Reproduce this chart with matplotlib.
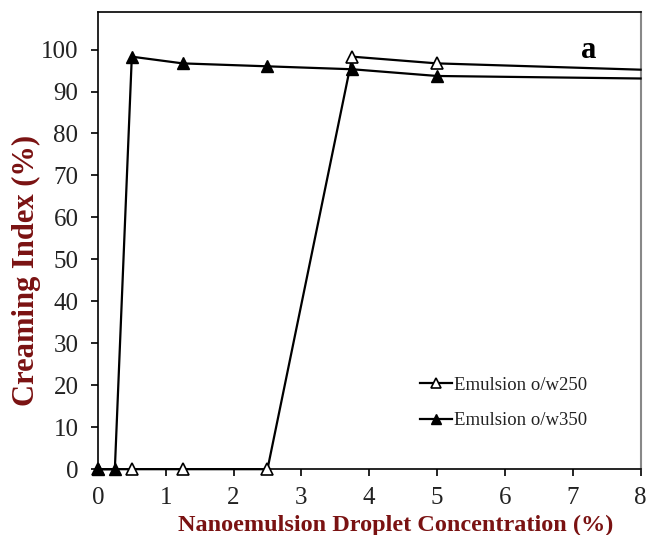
import matplotlib.pyplot as plt

# dados
conc_250 = [0, 0.5, 1.25, 2.5, 3.75, 5, 8]
ci_250 = [0, 0, 0, 0, 98.3, 96.7, 95.2]

conc_350 = [0, 0.25, 0.5, 1.25, 2.5, 3.75, 5, 8]
ci_350 = [0, 0, 98.3, 96.7, 96.0, 95.3, 93.7, 93.1]

yticks = list(range(0, 101, 10))
xticks = list(range(0, 9))

plt.rcParams['font.family'] = ['Liberation Serif', 'DejaVu Serif']
vermelho = '#7A1212'

fig, ax = plt.subplots(figsize=(6.57, 5.35), dpi=100)
fig.subplots_adjust(left=0.149, right=0.975, top=0.978, bottom=0.123)

ax.plot(conc_250, ci_250, color='black', lw=1.6, marker='^', markersize=8,
        markerfacecolor='white', markeredgecolor='black', markeredgewidth=1.2,
        markevery=list(range(len(conc_250) - 1)), label='Emulsion o/w250',
        clip_on=False, zorder=3)
ax.plot(conc_350, ci_350, color='black', lw=1.6, marker='^', markersize=8,
        markerfacecolor='black', markeredgecolor='black',
        markevery=list(range(len(conc_350) - 1)), label='Emulsion o/w350',
        clip_on=False, zorder=4)

ax.set_xlim(0, 8)
ax.set_ylim(0, 109)
ax.set_xticks(xticks)
ax.set_yticks(yticks)
ax.tick_params(labelsize=18, direction='out', length=5, width=1.2,
               labelcolor='#222222')
ax.tick_params(axis='y', pad=9)
ax.tick_params(axis='x', pad=8)
for lado in ['left', 'bottom', 'top']:
    ax.spines[lado].set_linewidth(1.2)
ax.spines['right'].set_color('#888888')
ax.spines['right'].set_linewidth(1.5)

ax.set_xlabel('Nanoemulsion Droplet Concentration (%)', fontsize=17.5,
              fontweight='bold', color=vermelho)
ax.xaxis.set_label_coords(0.548, -0.1)
ax.set_ylabel('Creaming Index (%)', fontsize=22, fontweight='bold',
              color=vermelho)
ax.yaxis.set_label_coords(-0.105, 0.435)

ax.text(0.905, 0.915, 'a', transform=ax.transAxes, fontsize=22,
        fontweight='bold', ha='center', va='center')

ax.legend(loc='lower left', bbox_to_anchor=(0.563, 0.05), frameon=False,
          fontsize=13.5, handlelength=1.7, handletextpad=0.1, labelspacing=1.0,
          markerscale=0.9, labelcolor='#222222')

fig.savefig('out.png')
